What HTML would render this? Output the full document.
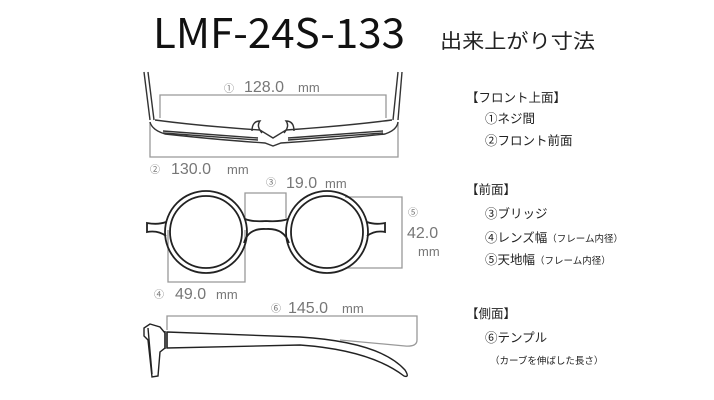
<!DOCTYPE html>
<html><head><meta charset="utf-8"><style>
html,body{margin:0;padding:0;background:#fff;}
svg{display:block;}
text{font-family:"Liberation Sans","Noto Sans CJK JP",sans-serif;}
.j{font-family:"Noto Sans CJK JP",sans-serif;fill:#222;}
.d{fill:#777;}
</style></head><body>
<svg width="714" height="400" viewBox="0 0 714 400" xmlns="http://www.w3.org/2000/svg">
<text x="153" y="48" font-size="41" textLength="252" lengthAdjust="spacingAndGlyphs" fill="#111" style="font-family:'Noto Sans CJK JP',sans-serif">LMF-24S-133</text>
<text x="440" y="48" font-size="20" class="j" textLength="155" lengthAdjust="spacingAndGlyphs">出来上がり寸法</text>

<!-- top view -->
<g fill="none" stroke="#999" stroke-width="1.3">
<path d="M160 118 V95 H386 V118"/>
<path d="M150 122 V157 H398 V122"/>
</g>
<g fill="none" stroke="#333" stroke-width="1.4">
<path d="M144 72 L150 120 M148 72 L154 120"/>
<path d="M402 72 L398 120 M398 72 L393 120"/>
<path d="M150 122 Q152 130 165 134 Q220 140 265 143 L273 146 L281 143 Q330 140 385 134 Q397 130 398 122"/>
<path d="M155 120 Q200 126 260 130 L273 138 L286 130 Q345 126 392 120"/>
<path d="M163 131 L258 138 M163 133 L258 140 M288 138 L383 131 M288 140 L383 133"/>
<path d="M252 131 Q252 121 260 121 Q256 126 262 133 M294 131 Q294 121 286 121 Q290 126 284 133"/>
</g>
<text x="224" y="92" font-size="10" class="d">①</text>
<text x="244" y="92" font-size="16" class="d">128.0</text>
<text x="298" y="92" font-size="13" class="d">mm</text>
<text x="150" y="173" font-size="10" class="d">②</text>
<text x="171" y="174" font-size="16" class="d">130.0</text>
<text x="227" y="174" font-size="13" class="d">mm</text>

<!-- front view -->
<g fill="none" stroke="#999" stroke-width="1.3">
<path d="M245 218 V193 H286 V218"/>
<path d="M168 230 V282 H245 V230"/>
<path d="M345 197 H402 V268 H345"/>
</g>
<g fill="none" stroke="#222" stroke-width="1.8">
<circle cx="206" cy="232" r="41"/>
<circle cx="206" cy="232" r="36"/>
<circle cx="327" cy="232" r="41"/>
<circle cx="327" cy="232" r="36"/>
<path d="M245 219 Q252 222 266 221 Q280 222 288 219"/>
<path d="M244 243 Q248 228 266 229 Q284 228 289 243"/>
<path d="M166 222 Q158 225 147 223 L147 232 Q158 230 166 236"/>
<path d="M367 222 Q375 225 385 223 L385 232 Q375 230 367 236"/>
</g>
<text x="266" y="186" font-size="10" class="d">③</text>
<text x="286" y="188" font-size="16" class="d">19.0</text>
<text x="325" y="188" font-size="13" class="d">mm</text>
<text x="408" y="216" font-size="10" class="d">⑤</text>
<text x="407" y="238" font-size="16" class="d">42.0</text>
<text x="418" y="256" font-size="13" class="d">mm</text>
<text x="154" y="298" font-size="10" class="d">④</text>
<text x="175" y="299" font-size="16" class="d">49.0</text>
<text x="216" y="299" font-size="13" class="d">mm</text>

<!-- side view -->
<g fill="none" stroke="#999" stroke-width="1.3">
<path d="M167 330 V316 H417 V340 Q417 347 405 346 L340 340"/>
</g>
<g fill="none" stroke="#222" stroke-width="1.4">
<path d="M167 332 L300 337 Q380 342 405 370 Q410 378 404 376 Q370 350 300 345 L167 348 Z"/>
<path d="M167 332 V348 M165 331 V349"/>
<path d="M150 324 L160 327 L165 333 L165 348 L160 352 L158 376 L152 377 L148 340 L144 336 V328 Z"/>
<path d="M148 328 L152 374"/>
</g>
<text x="271" y="312" font-size="10" class="d">⑥</text>
<text x="288" y="313" font-size="16" class="d">145.0</text>
<text x="342" y="313" font-size="13" class="d">mm</text>

<!-- legend -->
<g class="j" font-size="12.5">
<text x="466" y="102">【フロント上面】</text>
<text x="485" y="123">①ネジ間</text>
<text x="485" y="145">②フロント前面</text>
<text x="466" y="194">【前面】</text>
<text x="485" y="218">③ブリッジ</text>
<text x="485" y="242">④レンズ幅<tspan font-size="9.5">（フレーム内径）</tspan></text>
<text x="485" y="264">⑤天地幅<tspan font-size="9.5">（フレーム内径）</tspan></text>
<text x="466" y="318">【側面】</text>
<text x="485" y="342">⑥テンプル</text>
<text x="490" y="364" font-size="9.5">（カーブを伸ばした長さ）</text>
</g>
</svg>
</body></html>
